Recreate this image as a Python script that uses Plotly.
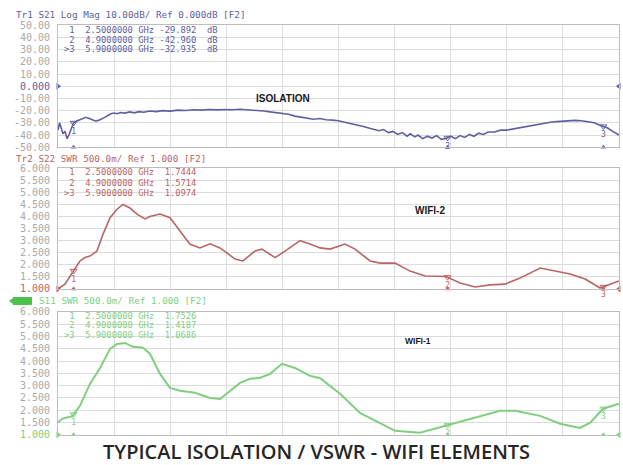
import numpy as np
import plotly.graph_objects as go

# ---------------- data ----------------
freq_start, freq_stop = 2.4, 6.0

freq_iso = [2.400, 2.410, 2.420, 2.432, 2.445, 2.458, 2.470, 2.480, 2.500, 2.520, 2.540, 2.560,
            2.580, 2.600, 2.620, 2.640, 2.660, 2.680, 2.700, 2.720, 2.740, 2.760, 2.780, 2.800,
            2.830, 2.860, 2.890, 2.920, 2.950, 2.990, 3.030, 3.070, 3.120, 3.170, 3.220, 3.270,
            3.320, 3.370, 3.420, 3.470, 3.520, 3.570, 3.620, 3.670, 3.720, 3.760, 3.800, 3.840,
            3.880, 3.920, 3.960, 4.000, 4.040, 4.080, 4.120, 4.160, 4.200, 4.240, 4.280, 4.320,
            4.360, 4.400, 4.430, 4.460, 4.490, 4.520, 4.550, 4.580, 4.610, 4.640, 4.660, 4.690,
            4.710, 4.740, 4.770, 4.800, 4.830, 4.860, 4.890, 4.920, 4.950, 4.980, 5.010, 5.040,
            5.070, 5.100, 5.130, 5.160, 5.200, 5.240, 5.280, 5.320, 5.360, 5.400, 5.440, 5.480,
            5.520, 5.560, 5.600, 5.640, 5.680, 5.720, 5.760, 5.800, 5.840, 5.870, 5.900, 5.930,
            5.960, 6.000]
iso_db = [-36, -30, -34, -39, -37, -43, -40, -36, -30, -28.5, -27.5, -26,
          -25.5, -26.5, -27.5, -28.5, -28, -27, -25.5, -24, -22.5, -22, -22.5, -21.5,
          -22, -21, -21.8, -20.8, -21.3, -20.3, -20.8, -20, -20.4, -19.6, -19.9, -19.3,
          -19.6, -19.1, -19.4, -19, -19.3, -18.9, -19.2, -19.6, -20.3, -21, -21.5, -22.5,
          -23, -24.5, -25.5, -26.5, -27, -26.5, -27.5, -27.8, -28.3, -29.5, -30.5, -31.5,
          -33, -34.5, -35.5, -36.5, -35.5, -38, -37, -39.5, -38, -41, -39, -41.5,
          -40, -43, -41, -42.5, -40.5, -43.5, -42.9, -41, -43, -40.5, -42, -39.5,
          -41, -38.5, -39.5, -37.5, -37.5, -36, -36, -35, -34, -33, -32, -31,
          -30.5, -29.5, -29, -28.5, -28, -28, -28.3, -29, -30, -31.5, -32.9, -34.5,
          -37, -40]

freq_w2 = [2.400, 2.445, 2.490, 2.541, 2.573, 2.605, 2.650, 2.689, 2.734, 2.779, 2.817, 2.862,
           2.907, 2.958, 2.990, 3.055, 3.119, 3.183, 3.247, 3.311, 3.376, 3.440, 3.536, 3.587,
           3.664, 3.709, 3.793, 3.857, 3.953, 4.017, 4.082, 4.146, 4.242, 4.306, 4.403, 4.467,
           4.563, 4.659, 4.756, 4.890, 4.980, 5.077, 5.173, 5.269, 5.365, 5.494, 5.590, 5.686,
           5.783, 5.879, 5.943, 6.000]
w2_swr = [1.0, 1.2, 1.65, 2.16, 2.3, 2.36, 2.57, 3.27, 3.95, 4.3, 4.5, 4.35,
          4.1, 3.9, 4.0, 4.1, 3.95, 3.4, 2.85, 2.7, 2.87, 2.7, 2.24, 2.16,
          2.57, 2.65, 2.3, 2.57, 3.0, 2.86, 2.7, 2.65, 2.86, 2.65, 2.16, 2.07,
          2.07, 1.74, 1.54, 1.52, 1.25, 1.08, 1.17, 1.2, 1.45, 1.87, 1.74, 1.62,
          1.41, 1.04, 1.2, 1.33]

freq_w1 = [2.400, 2.426, 2.458, 2.490, 2.541, 2.605, 2.670, 2.734, 2.779, 2.830, 2.881, 2.946,
           2.990, 3.055, 3.119, 3.183, 3.279, 3.376, 3.440, 3.504, 3.568, 3.632, 3.697, 3.761,
           3.838, 3.921, 4.017, 4.082, 4.210, 4.338, 4.467, 4.563, 4.723, 4.890, 5.044, 5.237,
           5.333, 5.494, 5.622, 5.750, 5.815, 5.898, 6.000]
w1_swr = [1.5, 1.65, 1.7, 1.75, 2.18, 3.07, 3.72, 4.5, 4.7, 4.74, 4.58, 4.54,
          4.3, 3.48, 2.91, 2.79, 2.71, 2.5, 2.46, 2.79, 3.11, 3.28, 3.32, 3.48,
          3.89, 3.72, 3.4, 3.3, 2.67, 1.89, 1.49, 1.16, 1.08, 1.37, 1.65, 1.98,
          1.98, 1.77, 1.45, 1.28, 1.49, 2.06, 2.26]

marker_ids = ["1", "2", "3"]
marker_freqs = [2.5, 4.9, 5.9]
iso_marker_vals = [-29.892, -42.960, -32.935]
w2_marker_vals = [1.7444, 1.5714, 1.0974]
w1_marker_vals = [1.7526, 1.4187, 1.0686]

iso_ticks = [50, 40, 30, 20, 10, 0, -10, -20, -30, -40, -50]
iso_ticklabels = ["50.00", "40.00", "30.00", "20.00", "10.00", "0.000",
                  "-10.00", "-20.00", "-30.00", "-40.00", "-50.00"]
swr_ticks = [6.0, 5.5, 5.0, 4.5, 4.0, 3.5, 3.0, 2.5, 2.0, 1.5, 1.0]
swr_ticklabels = ["6.000", "5.500", "5.000", "4.500", "4.000", "3.500",
                  "3.000", "2.500", "2.000", "1.500", "1.000"]

panel_labels = ["ISOLATION", "WIFI-2", "WIFI-1"]
titles = ["Tr1 S21 Log Mag 10.00dB/ Ref 0.000dB [F2]",
          "Tr2 S22 SWR 500.0m/ Ref 1.000 [F2]",
          "S11 SWR 500.0m/ Ref 1.000 [F2]"]
main_title = "TYPICAL ISOLATION / VSWR - WIFI ELEMENTS"

# ---------------- styling / layout ----------------
W, H = 623, 465
# vertical calibration of the capture (observed: screen_y = 4.6 + 0.9756 * fig_y)
CY0, CYS = 4.6, 0.9756
def px(x): return min(1.0, max(0.0, x / W))
def py(y): return min(1.0, max(0.0, 1 - ((y - CY0) / CYS) / H))

BLUE = "#5d61a0"
RED = "#b96565"
GREEN = "#7fcf7f"
TICKGRAY = "#a9a9a9"
GRID = "#dcdcdc"
FRAME = "#bdbdbd"
MONO = "DejaVu Sans Mono"

xdom = [px(58), px(619)]
ydoms = [[py(146), py(24)], [py(288), py(167)], [py(434), py(311)]]
colors = [BLUE, RED, GREEN]
ref_vals = [0, 1.0, 1.0]

fig = go.Figure()

series = [(freq_iso, iso_db, iso_marker_vals),
          (freq_w2, w2_swr, w2_marker_vals),
          (freq_w1, w1_swr, w1_marker_vals)]
ranges = [[-50, 50], [1.0, 6.0], [1.0, 6.0]]

for i, (fx, fy, mv) in enumerate(series):
    xa = "x" if i == 0 else f"x{i+1}"
    ya = "y" if i == 0 else f"y{i+1}"
    c = colors[i]
    fig.add_trace(go.Scatter(x=fx, y=fy, mode="lines", xaxis=xa, yaxis=ya,
                             line=dict(color=c, width=1.6 if i < 2 else 2.0),
                             hoverinfo="skip", showlegend=False))
    my = list(np.interp(marker_freqs, fx, fy))
    fig.add_trace(go.Scatter(x=marker_freqs, y=my, mode="markers+text", xaxis=xa, yaxis=ya,
                             marker=dict(symbol="triangle-down-open", size=6, color=c,
                                         line=dict(width=1, color=c)),
                             text=marker_ids, textposition="bottom center",
                             textfont=dict(family=MONO, size=8, color=c),
                             cliponaxis=False, hoverinfo="skip", showlegend=False))
    ymin = ranges[i][0]
    fig.add_trace(go.Scatter(x=marker_freqs, y=[ymin] * 3, mode="markers", xaxis=xa, yaxis=ya,
                             marker=dict(symbol="triangle-up", size=5, color=c),
                             cliponaxis=False, hoverinfo="skip", showlegend=False))
    fig.add_trace(go.Scatter(x=[freq_start, freq_stop], y=[ref_vals[i]] * 2, mode="markers",
                             xaxis=xa, yaxis=ya,
                             marker=dict(symbol=["triangle-right", "triangle-left"], size=6, color=c),
                             cliponaxis=False, hoverinfo="skip", showlegend=False))

xgrid = [freq_start + k * (freq_stop - freq_start) / 10 for k in range(11)]

layout = dict(width=W, height=H, margin=dict(l=0, r=0, t=0, b=0),
              paper_bgcolor="white", plot_bgcolor="white", showlegend=False)

for i in range(3):
    sx = "" if i == 0 else str(i + 1)
    layout["xaxis" + sx] = dict(domain=xdom, range=[freq_start, freq_stop], anchor="y" + sx,
                                tickmode="array", tickvals=xgrid, showticklabels=False,
                                ticks="", showgrid=True, gridcolor=GRID, gridwidth=1,
                                zeroline=False, showline=True, mirror=True,
                                linecolor=FRAME, linewidth=1)
    if i == 0:
        tv, tl = iso_ticks, list(iso_ticklabels)
        tl[5] = f"<span style='color:{BLUE}'>{tl[5]}</span>"
    else:
        tv, tl = swr_ticks, list(swr_ticklabels)
        tl[-1] = f"<span style='color:{colors[i]}'>{tl[-1]}</span>"
    layout["yaxis" + sx] = dict(domain=ydoms[i], range=ranges[i], anchor="x" + sx,
                                tickmode="array", tickvals=tv, ticktext=tl,
                                tickfont=dict(family=MONO, size=10, color=TICKGRAY),
                                ticks="", ticklabelstandoff=5,
                                showgrid=True, gridcolor=GRID, gridwidth=1,
                                zeroline=False, showline=True, mirror=True,
                                linecolor=FRAME, linewidth=1)

fig.update_layout(**layout)

ann = []
title_pos = [(14, 13), (14, 157), (37, 300)]
for i in range(3):
    ann.append(dict(x=px(title_pos[i][0]), y=py(title_pos[i][1]), xref="paper", yref="paper",
                    xanchor="left", yanchor="middle", showarrow=False, text=titles[i],
                    font=dict(family=MONO, size=9.3, color=colors[i])))

row_y = [[29, 38.5, 48], [171, 181.5, 192], [315, 324.5, 334]]
NB = "\u00a0"
for i, (fx, fy, mv) in enumerate(series):
    for k in range(3):
        pre = ">" if k == 2 else NB
        if i == 0:
            txt = f"{pre}{marker_ids[k]}{NB*2}{marker_freqs[k]:.7f}{NB}GHz{NB}{mv[k]:.3f}{NB*2}dB"
        else:
            txt = f"{pre}{marker_ids[k]}{NB*2}{marker_freqs[k]:.7f}{NB}GHz{NB*2}{mv[k]:.4f}"
        ann.append(dict(x=px(62), y=py(row_y[i][k]), xref="paper", yref="paper",
                        xanchor="left", yanchor="middle", showarrow=False, text=txt,
                        font=dict(family=MONO, size=8.8, color=colors[i])))

label_pos = [(283, 97, 10), (430, 209, 10), (418, 340, 8.5)]
for i in range(3):
    ann.append(dict(x=px(label_pos[i][0]), y=py(label_pos[i][1]), xref="paper", yref="paper",
                    xanchor="center", yanchor="middle", showarrow=False,
                    text=f"<b>{panel_labels[i]}</b>",
                    font=dict(family="Liberation Sans", size=label_pos[i][2], color="#1a1a1a")))

ann.append(dict(x=px(316), y=py(450.5), xref="paper", yref="paper", xanchor="center",
                yanchor="middle", showarrow=False, text=main_title,
                font=dict(family="Open Sans", size=20, color="#262626", weight=600)))

fig.update_layout(annotations=ann)

fig.add_shape(type="rect", xref="paper", yref="paper", x0=px(13), x1=px(32),
              y0=py(304), y1=py(296), fillcolor="#4cc24c", line=dict(width=0))
fig.add_shape(type="path", xref="paper", yref="paper",
              path=f"M {px(9)} {py(300)} L {px(13)} {py(297)} L {px(13)} {py(303)} Z",
              fillcolor="#4cc24c", line=dict(width=0))

# pin the figure to the window's top-left corner (no page margins / scrolling)
page_js = ("document.documentElement.style.margin='0';document.body.style.margin='0';"
           "document.body.style.padding='0';document.body.style.overflow='hidden';"
           "var gd=document.getElementById('{plot_id}');gd.style.position='fixed';"
           "gd.style.top='0px';gd.style.left='0px';")
fig.write_html("out.html", post_script=page_js,
               config={"displayModeBar": False, "staticPlot": True})
